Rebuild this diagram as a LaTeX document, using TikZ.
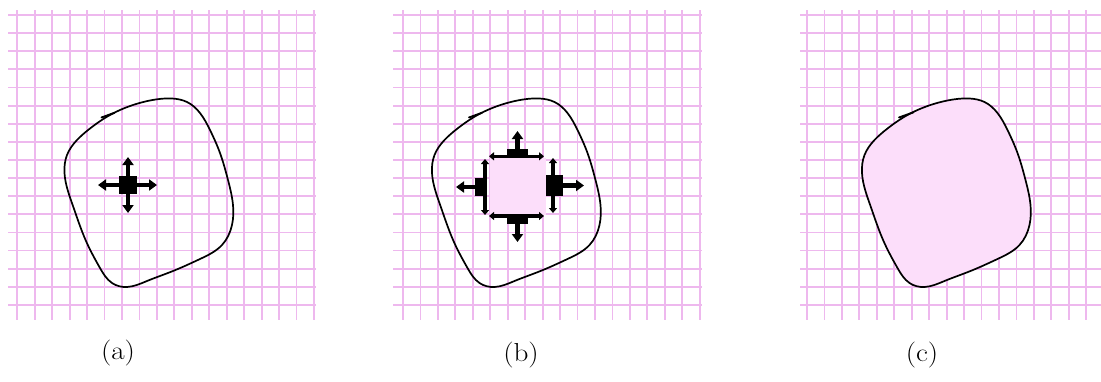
\documentclass[tikz,border=0pt]{standalone}
\usepackage{fontspec}
\usetikzlibrary{arrows.meta,hobby}
\definecolor{gridpink}{RGB}{238,184,238}
\definecolor{fillpink}{RGB}{252,222,250}
\tikzset{
  gridline/.style={draw=gridpink, line width=1.8pt},
  loopcurve/.style={draw=black, line width=1.7pt},
  orient/.style={draw=black, line width=1.9pt, line cap=round},
  bigarrow/.style={draw=black, line width=4.2pt, -{Triangle[width=11pt,length=8pt]}},
  sidebar/.style={draw=black, line width=3.4pt, {Triangle[width=8pt,length=5pt]}-{Triangle[width=8pt,length=5pt]}},
  blockfill/.style={fill=black},
  caption/.style={font=\fontsize{26}{30}\selectfont, xscale=1.12, transform shape}
}
\newcommand{\loopshape}{(64.5,173) .. (67,155) .. (77,140) .. (90,128.5) .. (110,115) .. (133,105) .. (157,99.3) .. (172,98.5) .. (187,102) .. (200,113) .. (210,130) .. (220,153) .. (228,180) .. (233,205) .. (232,225) .. (222,245) .. (200,259) .. (173,271) .. (147,281) .. (127,287) .. (112,283) .. (100,268) .. (86,241) .. (73,206)}
\begin{document}
\begin{tikzpicture}[x=1pt,y=-1pt]
\useasboundingbox (0,0) rectangle (1101,381);
% grids
\foreach \ox/\hx/\hxx/\nv in {17.3/8/316/17, 403/393/702/17, 807/800/1101/17}{
  \foreach \k in {0,...,\nv}{
    \draw[gridline] ({\ox+17.45*\k},10) -- ({\ox+17.45*\k},320);
  }
  \foreach \k in {0,...,16}{
    \draw[gridline] (\hx,{15+18.12*\k}) -- (\hxx,{15+18.12*\k});
  }
}
% panel (a)
\draw[loopcurve, use Hobby shortcut, closed=true] \loopshape;
\draw[orient] (101.5,117.5) -- (114.5,112.8);
\fill[blockfill] (119,176) rectangle (137,194);
\draw[bigarrow] (128,177) -- (128,157);
\draw[bigarrow] (128,193) -- (128,213);
\draw[bigarrow] (120,185) -- (98,185);
\draw[bigarrow] (136,185) -- (157,185);
\node[caption] (capa) at (118,353) {(a)};
% panel (b)
\begin{scope}[xshift=367.5pt]
\draw[loopcurve, use Hobby shortcut, closed=true] \loopshape;
\draw[orient] (101.5,117.5) -- (114.5,112.8);
\end{scope}
\fill[fillpink] (490,158) rectangle (546,215);
\draw[sidebar] (489,156.3) -- (544,156.3);
\draw[sidebar] (489,216) -- (544,216);
\draw[sidebar] (485,159) -- (485,215);
\draw[sidebar] (553,158) -- (553,213);
\fill[blockfill] (507,149) rectangle (528,157);
\fill[blockfill] (507,216) rectangle (528,224);
\fill[blockfill] (475,178) rectangle (487,196);
\fill[blockfill] (546,175) rectangle (563,196);
\draw[bigarrow] (517.5,150) -- (517.5,131);
\draw[bigarrow] (517.5,223) -- (517.5,242);
\draw[bigarrow] (476,187) -- (456,187);
\draw[bigarrow] (562,185.5) -- (584,185.5);
\node[caption] (capb) at (521,355) {(b)};
% panel (c)
\begin{scope}[xshift=797.5pt]
\draw[loopcurve, fill=fillpink, use Hobby shortcut, closed=true] \loopshape;
\draw[orient] (101.5,117.5) -- (116,112.3);
\end{scope}
\node[caption] (capc) at (922,355) {(c)};
\end{tikzpicture}
\end{document}
